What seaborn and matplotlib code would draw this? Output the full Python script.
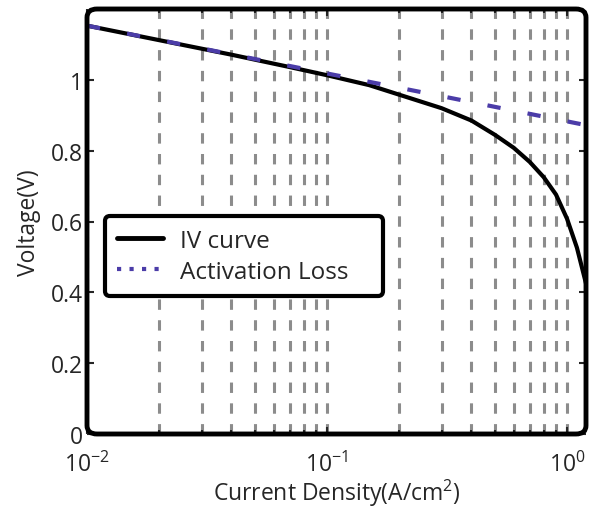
import matplotlib
matplotlib.use("Agg")
import matplotlib.pyplot as plt
import seaborn as sns
import numpy as np
from matplotlib.lines import Line2D
from matplotlib.patches import FancyBboxPatch
from matplotlib.ticker import LogLocator, NullFormatter

# Data
iv_current = [0.01, 0.02, 0.04, 0.07, 0.1, 0.15, 0.2, 0.3, 0.4, 0.5, 0.6, 0.7, 0.8, 0.9, 1.0, 1.1, 1.2]
iv_voltage = [1.153, 1.112, 1.071, 1.036, 1.013, 0.985, 0.958, 0.920, 0.885, 0.845, 0.808,
              0.768, 0.725, 0.676, 0.608, 0.526, 0.425]
act_current = [0.01, 0.03, 0.1, 0.3, 1.2]
act_voltage = [1.153, 1.089, 1.018, 0.954, 0.872]

y_ticks = [0, 0.2, 0.4, 0.6, 0.8, 1.0]
y_ticklabels = ["0", "0.2", "0.4", "0.6", "0.8", "1"]
labels = ["IV curve", "Activation Loss"]

FS = 16.5

sns.set_style("ticks")
plt.rcParams["font.family"] = ["Open Sans", "DejaVu Sans"]
plt.rcParams["mathtext.fontset"] = "custom"
plt.rcParams["mathtext.rm"] = "Open Sans"
plt.rcParams["mathtext.it"] = "Open Sans"

fig = plt.figure(figsize=(5.89, 5.10), dpi=100)
ax = fig.add_axes([87/589, 75/510, 499/589, 425/510])

sns.lineplot(x=iv_current, y=iv_voltage, ax=ax, color="black", lw=3, zorder=3)
sns.lineplot(x=act_current, y=act_voltage, ax=ax, color="#4b3ca8", lw=3, zorder=4)
ax.lines[-1].set_dashes((3.2, 6.6))

ax.set_xscale("log")
ax.set_xlim(0.01, 1.2)
ax.set_ylim(0, 1.2)
ax.xaxis.set_major_locator(LogLocator(base=10, numticks=10))
ax.xaxis.set_minor_locator(LogLocator(base=10, subs=np.arange(2, 10), numticks=20))
ax.xaxis.set_minor_formatter(NullFormatter())
ax.set_yticks(y_ticks)
ax.set_yticklabels(y_ticklabels)

ax.set_axisbelow(True)
ax.grid(True, which="both", axis="x", color="#8c8c8c", lw=2.2, linestyle=(0, (3.4, 3.4)))
ax.grid(False, axis="y")

for s in ax.spines.values():
    s.set_visible(False)
frame = FancyBboxPatch((0, 0), 1, 1, boxstyle="round,pad=0,rounding_size=0.02",
                       transform=ax.transAxes, fill=False, lw=3.5, ec="black",
                       clip_on=False, zorder=6)
ax.add_patch(frame)

ax.tick_params(which="both", direction="in", top=True, right=True, width=1.5,
               labelsize=FS, pad=3)
ax.tick_params(which="major", length=5)
ax.tick_params(which="minor", length=3)
ax.tick_params(axis="x", which="both", pad=13)

ax.set_xlabel("Current Density(A/cm$^2$)", fontsize=FS, labelpad=0)
ax.set_ylabel("Voltage(V)", fontsize=FS, labelpad=7)

handles = [Line2D([], [], color="black", lw=3.5),
           Line2D([], [], color="#4b3ca8", lw=3, linestyle=(0, (1, 2)))]
leg = ax.legend(handles, labels, loc="upper left",
                bbox_to_anchor=(0.036, 0.334, 0.557, 0.178), mode="expand",
                fontsize=17.5, fancybox=True, framealpha=1, edgecolor="black",
                handlelength=1.9, borderpad=0.5, labelspacing=0.3, handletextpad=0.7,
                borderaxespad=0)
leg.get_frame().set_linewidth(3)
leg.set_zorder(7)

fig.savefig("out.png", dpi=100)
